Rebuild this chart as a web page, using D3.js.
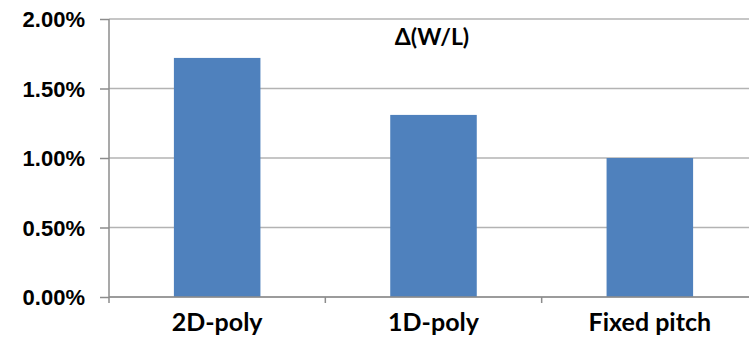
<!DOCTYPE html>
<html>
<head>
<meta charset="utf-8">
<script src="https://cdn.jsdelivr.net/npm/d3@7"></script>
<style>
  body { margin: 0; background: #fff; }
  svg { display: block; font-family: Lato, "Open Sans", sans-serif; }
</style>
</head>
<body>
<svg id="chart" width="749" height="338"></svg>
<script>
const categories = ["2D-poly", "1D-poly", "Fixed pitch"];
const deltaWL = [0.0172, 0.0131, 0.0100];
const yTicks = [0, 0.005, 0.01, 0.015, 0.02];
const chartTitle = "Δ(W/L)";

const svg = d3.select("#chart");

//plot area (right side runs past the window like the original)
const margin = { top: 19, left: 109 };
const plotW = 649;
const plotH = 278;

const g = svg.append("g")
  .attr("transform", `translate(${margin.left},${margin.top})`);

const x = d3.scaleBand()
  .domain(categories)
  .range([0, plotW])
  .paddingInner(0.6)
  .paddingOuter(0.3);

const y = d3.scaleLinear()
  .domain([0, 0.02])
  .range([plotH, 0]);

//gridlines
g.selectAll("line.grid")
  .data(yTicks)
  .join("line")
  .attr("class", "grid")
  .attr("x1", 0)
  .attr("x2", plotW)
  .attr("y1", d => y(d))
  .attr("y2", d => y(d))
  .attr("stroke", "#b3b3b3")
  .attr("stroke-width", 1.5);

//bars
g.selectAll("rect")
  .data(categories)
  .join("rect")
  .attr("x", d => x(d))
  .attr("y", (d, i) => y(deltaWL[i]))
  .attr("width", x.bandwidth())
  .attr("height", (d, i) => plotH - y(deltaWL[i]))
  .attr("fill", "#4f81bd");

//y axis
const yAxis = g.append("g")
  .call(d3.axisLeft(y).tickValues(yTicks).tickFormat(d3.format(".2%")).tickSize(9).tickPadding(15));
yAxis.select(".domain").attr("stroke", "#8c8c8c").attr("stroke-width", 1.5)
  .attr("d", `M0,${plotH + 6}V0`);
yAxis.selectAll(".tick line").attr("stroke", "#8c8c8c").attr("stroke-width", 1.5);
yAxis.selectAll(".tick text")
  .attr("font-size", "22px")
  .attr("font-weight", "bold")
  .attr("fill", "#000")
  .attr("dy", "0.36em");

//x axis, ticks between categories
const xAxis = g.append("g")
  .attr("transform", `translate(0,${plotH})`);
xAxis.append("line")
  .attr("x1", 0).attr("x2", plotW)
  .attr("stroke", "#8c8c8c").attr("stroke-width", 1.5);
const step = x.step();
xAxis.selectAll("line.sep")
  .data(categories.slice(1))
  .join("line")
  .attr("class", "sep")
  .attr("x1", d => x(d) - x.paddingInner() * step / 2)
  .attr("x2", d => x(d) - x.paddingInner() * step / 2)
  .attr("y1", 0).attr("y2", 6)
  .attr("stroke", "#8c8c8c").attr("stroke-width", 1.5);
xAxis.selectAll("text")
  .data(categories)
  .join("text")
  .attr("x", d => x(d) + x.bandwidth() / 2)
  .attr("y", 34)
  .attr("text-anchor", "middle")
  .attr("font-size", "25px")
  .attr("font-weight", "bold")
  .text(d => d);

//title
svg.append("text")
  .attr("x", 432)
  .attr("y", 45)
  .attr("text-anchor", "middle")
  .attr("font-size", "23px")
  .attr("font-weight", "bold")
  .text(chartTitle);
</script>
</body>
</html>
